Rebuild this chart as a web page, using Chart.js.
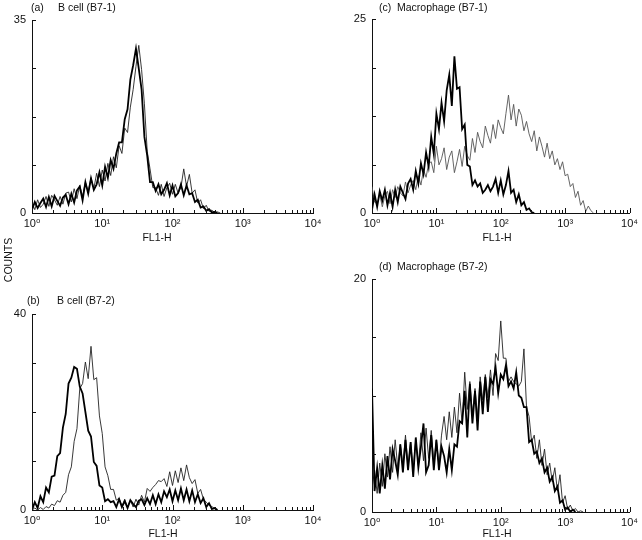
<!DOCTYPE html>
<html>
<head>
<meta charset="utf-8">
<script src="https://cdn.jsdelivr.net/npm/chart.js@4.4.1/dist/chart.umd.min.js"></script>
<style>
  html, body { margin: 0; padding: 0; background: #fff; }
  #wrap { position: relative; width: 642px; height: 540px; overflow: hidden; font-family: "Liberation Sans", Arial, "DejaVu Sans", sans-serif; color: #111; }
  #wrap canvas { position: absolute; }
  .lbl { position: absolute; font-size: 10.5px; line-height: 12px; white-space: pre; }
  .cx { transform: translateX(-50%); }
  #counts { transform: translate(-50%, -50%) rotate(-90deg); }
</style>
</head>
<body>
<div id="wrap">
  <canvas id="pa" width="330" height="250" style="left:0;top:0"></canvas>
  <canvas id="pc" width="312" height="250" style="left:330px;top:0"></canvas>
  <canvas id="pb" width="330" height="260" style="left:0;top:280px"></canvas>
  <canvas id="pd" width="312" height="280" style="left:330px;top:260px"></canvas>

  <div class="lbl" style="left:31px;top:1px">(a)</div>
  <div class="lbl" style="left:58px;top:1px">B cell (B7-1)</div>
  <div class="lbl" style="left:379px;top:1px">(c)</div>
  <div class="lbl" style="left:397px;top:1px">Macrophage (B7-1)</div>
  <div class="lbl" style="left:27px;top:294px">(b)</div>
  <div class="lbl" style="left:57px;top:294px">B cell (B7-2)</div>
  <div class="lbl" style="left:379px;top:260px">(d)</div>
  <div class="lbl" style="left:397px;top:260px">Macrophage (B7-2)</div>

  <div class="lbl cx" style="left:157px;top:231px">FL1-H</div>
  <div class="lbl cx" style="left:497px;top:231px">FL1-H</div>
  <div class="lbl cx" style="left:163px;top:527px">FL1-H</div>
  <div class="lbl cx" style="left:497px;top:527px">FL1-H</div>
  <div class="lbl" id="counts" style="left:8px;top:260px">COUNTS</div>
</div>

<script>
// channel spacing of the histograms, in decades (25 channels per decade)
const STEP = 0.04;
const decadeLabels = ['10⁰', '10¹', '10²', '10³', '10⁴'];

// (a) B cell, B7-1
const bcellB71Dark = [0.6, 2.0, 0.9, 1.8, 2.6, 1.1, 2.9, 1.2, 3.1, 2.2, 1.3, 2.8, 3.3, 1.6, 3.5, 1.9, 4.1, 4.8, 2.3, 5.6,
  3.5, 6.3, 4.2, 5.2, 7.4, 5.0, 8.4, 6.4, 9.6, 8.0, 10.8, 12.8, 12.8, 17.0, 18.8, 24.2, 26.8, 29.8, 26.2, 22.4,
  13.8, 10.4, 5.6, 5.6, 4.0, 5.2, 3.4, 4.2, 5.4, 3.2, 5.0, 3.0, 3.6, 5.2, 3.2, 5.0, 3.4, 3.6, 2.0, 2.4,
  1.0, 1.2, 0.4, 0.7, 0.1, 0.2, 0.0];
const bcellB71Light = [1.8, 0.6, 2.4, 1.0, 1.6, 3.0, 1.2, 3.2, 2.4, 1.4, 3.0, 1.6, 3.6, 3.8, 2.0, 4.4, 2.6, 5.0, 3.0, 5.6,
  3.8, 6.4, 4.4, 7.2, 4.8, 7.8, 5.8, 9.0, 6.8, 10.2, 8.2, 12.2, 10.8, 15.4, 14.6, 19.2, 22.4, 26.6, 30.4, 26.0,
  19.8, 11.2, 8.0, 4.6, 4.6, 3.2, 5.2, 3.0, 4.6, 5.4, 3.4, 5.2, 3.6, 4.6, 8.0, 4.8, 7.0, 3.6, 4.2, 1.8,
  2.4, 0.8, 1.4, 0.3, 0.5, 0.1, 0.2, 0.0];

// (b) B cell, B7-2
const bcellB72Dark = [0.0, 1.6, 0.4, 2.8, 1.6, 4.6, 3.6, 6.8, 7.0, 11.0, 11.6, 16.8, 19.6, 25.8, 27.0, 29.2, 28.8, 25.2, 23.8, 20.0,
  16.2, 15.0, 9.8, 9.0, 5.0, 4.6, 1.8, 2.2, 1.6, 1.8, 0.6, 2.2, 0.6, 1.8, 0.4, 2.0, 1.2, 0.6, 1.9, 2.2,
  1.0, 2.4, 1.2, 3.0, 1.2, 3.2, 1.6, 3.8, 2.6, 4.2, 1.8, 4.0, 2.0, 4.4, 2.0, 4.2, 1.8, 4.0, 1.6, 3.2,
  1.4, 2.4, 0.6, 1.4, 0.2, 0.4, 0.0];
const bcellB72Light = [0.0, 0.4, 0.0, 0.5, 0.1, 0.7, 0.4, 1.2, 0.9, 1.9, 1.6, 3.0, 3.6, 7.2, 8.8, 14.0, 16.6, 24.8, 25.8, 30.2,
  26.8, 33.4, 26.6, 27.0, 19.2, 15.6, 8.8, 7.0, 4.2, 4.2, 2.0, 2.4, 0.8, 2.2, 0.6, 2.0, 0.6, 2.2, 1.0, 3.0,
  1.6, 4.4, 3.8, 4.6, 5.2, 6.0, 5.8, 6.4, 4.8, 7.8, 5.0, 8.0, 5.6, 8.6, 6.0, 9.2, 6.6, 5.4, 6.2, 3.4,
  4.2, 2.2, 1.6, 1.0, 0.7, 0.3, 0.0];

// (c) Macrophage, B7-1
const macB71Dark = [0.4, 2.4, 0.8, 2.8, 1.6, 3.0, 1.0, 2.6, 0.8, 3.0, 1.4, 3.4, 2.6, 1.8, 3.8, 4.4, 3.0, 5.4, 3.8, 6.4,
  5.0, 7.8, 6.0, 9.8, 7.6, 12.8, 10.8, 14.2, 11.8, 15.8, 17.8, 13.8, 20.2, 16.0, 16.2, 10.8, 11.4, 6.2, 6.0, 3.6,
  4.2, 3.4, 3.8, 2.6, 3.0, 3.6, 2.8, 3.4, 4.4, 2.6, 4.2, 2.4, 3.6, 5.4, 2.6, 3.0, 1.4, 2.4, 1.0, 1.4,
  0.4, 0.6, 0.1, 0.0];
const macB71Light = [3.4, 1.4, 1.2, 2.4, 0.8, 2.2, 2.8, 1.2, 3.0, 2.0, 3.4, 2.6, 2.2, 4.0, 2.6, 3.6, 4.2, 3.0, 4.8, 3.6,
  5.6, 4.6, 6.4, 6.6, 5.2, 8.6, 6.2, 7.0, 8.4, 5.6, 7.2, 8.0, 5.2, 6.6, 8.2, 6.0, 8.6, 7.4, 6.8, 9.6,
  7.8, 10.4, 9.2, 8.4, 11.2, 10.0, 9.0, 11.4, 9.6, 12.0, 11.0, 10.2, 12.8, 15.2, 12.0, 14.0, 11.2, 13.4, 12.6, 10.6,
  11.8, 10.2, 9.2, 10.6, 8.0, 9.8, 8.6, 7.2, 9.0, 7.0, 8.0, 6.2, 7.0, 5.6, 6.6, 4.8, 5.0, 3.4, 3.8, 2.0,
  2.8, 1.0, 1.6, 0.2, 0.9, 0.3, 0.0];

// (d) Macrophage, B7-2
const macB72Dark = [10.6, 1.8, 3.8, 1.6, 4.0, 2.0, 4.8, 2.8, 5.4, 4.4, 3.2, 5.8, 3.4, 6.2, 3.6, 6.0, 3.0, 6.4, 3.8, 5.6,
  7.6, 3.4, 4.0, 6.6, 3.6, 6.2, 3.6, 5.6, 4.8, 3.4, 5.4, 3.6, 5.8, 5.6, 7.8, 7.6, 10.4, 6.4, 11.0, 7.6,
  10.4, 7.0, 11.2, 8.4, 11.6, 8.6, 11.4, 11.0, 12.4, 10.2, 11.8, 11.4, 12.6, 10.8, 11.2, 10.6, 12.0, 10.0, 9.8, 9.0,
  9.0, 6.0, 6.2, 5.0, 5.2, 4.2, 4.6, 3.4, 3.8, 2.6, 3.0, 1.8, 2.2, 0.8, 1.0, 0.2, 0.4, 0.0, 0.2, 0.0];
const macB72Light = [2.0, 3.6, 1.6, 4.2, 2.2, 5.0, 3.0, 5.6, 3.4, 6.2, 3.8, 5.8, 4.0, 6.6, 3.8, 6.0, 3.6, 6.2, 4.0, 6.8,
  4.4, 7.2, 4.6, 7.0, 4.2, 6.2, 4.0, 6.6, 8.2, 6.2, 8.6, 6.4, 9.0, 6.8, 10.2, 7.6, 12.0, 8.8, 11.2, 8.4,
  10.6, 8.2, 11.6, 9.6, 11.8, 9.8, 12.2, 10.0, 13.6, 13.0, 16.4, 13.2, 13.2, 11.2, 11.6, 11.2, 11.0, 10.8, 11.2, 14.0,
  9.0, 8.2, 6.0, 6.6, 4.6, 6.2, 4.0, 5.4, 3.2, 4.2, 2.6, 3.8, 1.8, 3.2, 0.8, 1.4, 0.2, 0.6, 0.1, 0.3,
  0.0, 0.1, 0.0];

const yMaxima = { a: 35, b: 40, c: 25, d: 20 };

const FONT = { family: '"Liberation Sans", Arial, "DejaVu Sans", sans-serif', size: 11 };

// tick marks point into the plot, as on the cytometer printout
const innerTicks = {
  id: 'innerTicks',
  afterDraw(chart) {
    const { ctx, chartArea, scales: { x, y } } = chart;
    ctx.save();
    ctx.strokeStyle = '#111';
    ctx.lineWidth = 1;
    ctx.beginPath();
    for (let d = 0; d <= 4; d++) {
      for (let k = 1; k <= 9; k++) {
        if (d === 4 && k > 1) break;
        const px = Math.round(x.getPixelForValue(d + Math.log10(k))) + 0.5;
        const len = k === 1 ? 5 : 3;
        ctx.moveTo(px, chartArea.bottom);
        ctx.lineTo(px, chartArea.bottom - len);
      }
    }
    y.ticks.forEach(t => {
      const py = Math.round(y.getPixelForValue(t.value)) + 0.5;
      ctx.moveTo(chartArea.left, py);
      ctx.lineTo(chartArea.left + 4, py);
    });
    ctx.stroke();
    ctx.restore();
  }
};

function toPoints(values) {
  return values.map((v, i) => ({ x: i * STEP, y: v }));
}

function makePanel(id, yMax, dark, light, lightColor, padding) {
  new Chart(document.getElementById(id), {
    type: 'line',
    data: {
      datasets: [
        { data: toPoints(dark), borderColor: '#000', borderWidth: 1.8 },
        { data: toPoints(light), borderColor: lightColor, borderWidth: 0.9 }
      ]
    },
    options: {
      responsive: false,
      animation: false,
      layout: { padding: padding },
      elements: { point: { radius: 0 }, line: { tension: 0 } },
      plugins: { legend: { display: false }, tooltip: { enabled: false } },
      scales: {
        x: {
          type: 'linear', min: 0, max: 4,
          grid: { display: false, drawTicks: false },
          border: { display: true, color: '#111', width: 1 },
          ticks: {
            stepSize: 1, padding: 4, color: '#111', font: FONT, maxRotation: 0,
            callback: v => decadeLabels[Math.round(v)]
          },
          afterFit: s => { s.height = 20; }
        },
        y: {
          min: 0, max: yMax,
          grid: { display: false, drawTicks: false },
          border: { display: true, color: '#111', width: 1 },
          ticks: {
            stepSize: yMax / 4, padding: 6, color: '#111', font: FONT,
            callback: v => (v === 0 || Math.abs(v - yMax) < 1e-6) ? String(v) : ''
          },
          afterFit: s => { s.width = 32; }
        }
      }
    },
    plugins: [innerTicks]
  });
}

makePanel('pa', yMaxima.a, bcellB71Dark, bcellB71Light, '#222', { left: 0, top: 20, right: 17, bottom: 17 });
makePanel('pc', yMaxima.c, macB71Dark, macB71Light, '#555', { left: 10, top: 19, right: 9, bottom: 17 });
makePanel('pb', yMaxima.b, bcellB72Dark, bcellB72Light, '#222', { left: 0, top: 34, right: 17, bottom: 10 });
makePanel('pd', yMaxima.d, macB72Dark, macB72Light, '#222', { left: 10, top: 19, right: 9, bottom: 8 });
</script>
</body>
</html>
